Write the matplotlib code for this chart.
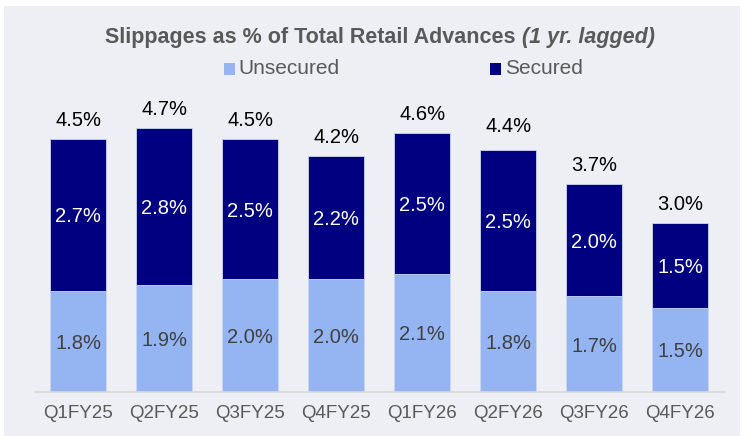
import matplotlib
matplotlib.use("Agg")
import matplotlib.pyplot as plt
from matplotlib.patches import Rectangle

categories = ["Q1FY25", "Q2FY25", "Q3FY25", "Q4FY25", "Q1FY26", "Q2FY26", "Q3FY26", "Q4FY26"]
unsecured = [1.8, 1.9, 2.0, 2.0, 2.1, 1.8, 1.7, 1.5]
secured = [2.7, 2.8, 2.5, 2.2, 2.5, 2.5, 2.0, 1.5]
totals = [4.5, 4.7, 4.5, 4.2, 4.6, 4.4, 3.7, 3.0]

plt.rcParams['font.family'] = ['Liberation Sans', 'DejaVu Sans']

W, H = 743, 436
fig = plt.figure(figsize=(W / 100, H / 100), dpi=100)
fig.patch.set_facecolor("white")
bg = Rectangle((4 / W, 0), 736 / W, 430 / H, transform=fig.transFigure,
               facecolor="#EEEFF4", edgecolor="none", zorder=-10)
fig.add_artist(bg)

ax = fig.add_axes([35 / W, 44 / H, 690 / W, 292 / H])
ax.set_zorder(1)
ax.set_facecolor("none")
x = list(range(len(categories)))
c_uns = "#95B4F2"
c_sec = "#000080"
ax.bar(x, unsecured, width=0.65, color=c_uns, edgecolor="#C9D6F2", linewidth=0.6)
ax.bar(x, secured, width=0.65, bottom=unsecured, color=c_sec, edgecolor="#C9D6F2", linewidth=0.6)

for i in x:
    ax.text(i, unsecured[i] / 2, f"{unsecured[i]:.1f}%", ha="center", va="center_baseline",
            fontsize=14.5, color="#404040")
    ax.text(i, unsecured[i] + secured[i] / 2, f"{secured[i]:.1f}%", ha="center", va="center_baseline",
            fontsize=14.5, color="white")
    ax.text(i, totals[i] + 0.23, f"{totals[i]:.1f}%", ha="center", va="baseline",
            fontsize=14.5, color="black")

ax.set_xlim(-0.5, 7.52)
ax.set_ylim(0, 5.19)
ax.set_yticks([])
for s in ["top", "right", "left"]:
    ax.spines[s].set_visible(False)
ax.spines["bottom"].set_color("#D9D9D9")
ax.spines["bottom"].set_linewidth(1.2)
ax.set_xticks(x)
ax.set_xticklabels(categories, fontsize=13.5, color="#595959")
ax.tick_params(axis="x", length=0, pad=9)

# title pieces
renderer = fig.canvas.get_renderer()
ta = fig.text(105 / W, 1 - 38 / H, "Slippages as % of Total Retail Advances ", ha="left", va="center",
              fontsize=15.5, fontweight="bold", color="#595959")
bb = ta.get_window_extent(renderer=renderer)
fig.text(bb.x1 / W, 1 - 38 / H, "(1 yr. lagged)", ha="left", va="center",
         fontsize=15.5, fontweight="bold", fontstyle="italic", color="#595959")

# legend
fig.add_artist(Rectangle((224 / W, 1 - 75 / H), 11 / W, 12 / H, transform=fig.transFigure,
                         facecolor=c_uns, edgecolor="none"))
fig.text(238 / W, 1 - 68 / H, "Unsecured", ha="left", va="center", fontsize=15, color="#595959")
fig.add_artist(Rectangle((490 / W, 1 - 75 / H), 11 / W, 12 / H, transform=fig.transFigure,
                         facecolor=c_sec, edgecolor="none"))
fig.text(505 / W, 1 - 68 / H, "Secured", ha="left", va="center", fontsize=15, color="#595959")

fig.savefig("out.png", dpi=100, facecolor=fig.get_facecolor())
